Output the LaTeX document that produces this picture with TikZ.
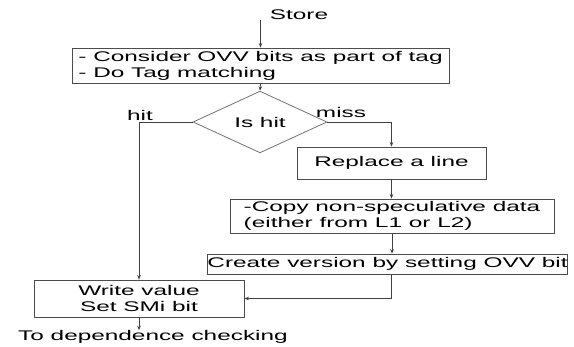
\documentclass[tikz,border=0pt]{standalone}
\usepackage{fontspec}
\setmainfont{Liberation Sans}[FakeStretch=1.74]
\usetikzlibrary{shapes.geometric,arrows.meta}
\begin{document}
\begin{tikzpicture}[x=1pt,y=-1pt,
  every node/.style={font=\fontsize{14}{16}\selectfont, inner sep=0pt},
  box/.style={draw=black!70, line width=0.8pt, rectangle},
  dia/.style={draw=black!55, line width=0.8pt, diamond, minimum width=134pt, minimum height=40pt},
  lbl/.style={},
  conn/.style={draw=black!75, line width=0.8pt},
  arr/.style={conn, -{Stealth[length=4.5pt,width=3.5pt]}}]
\useasboundingbox (0,0) rectangle (574,347);
\node[lbl] (store) at (299,15) {Store};
\node[box, minimum width=377pt, minimum height=35pt, align=left] (box1) at (260.5,65.5)
  {- Consider OVV bits as part of tag\\- Do Tag matching};
\node[dia] (ishit) at (260,122) {Is hit};
\node[lbl] (hit) at (140,115) {hit};
\node[lbl] (miss) at (341,112) {miss};
\node[box, minimum width=189pt, minimum height=32pt] (replace) at (391.5,163) {Replace a line};
\node[box, minimum width=324pt, minimum height=34pt, align=left] (copy) at (392,216)
  {-Copy non-speculative data\\(either from L1 or L2)};
\node[box, minimum width=359pt, minimum height=20pt] (create) at (387.5,264)
  {Create version by setting OVV bit};
\node[box, minimum width=210pt, minimum height=37pt, align=center] (write) at (139,298.5)
  {Write value\\Set SMi bit};
\node[lbl] (dep) at (153,337) {To dependence checking};

\draw[arr] (store.south -| box1.north) -- (box1.north);
\draw[arr] (box1.south) -- (ishit.north);
\draw[arr] (ishit.west) -| (write.north);
\draw[arr] (ishit.east) -| (replace.north);
\draw[arr] (replace.south) -- (replace.south |- copy.north);
\draw[arr] (copy.south) -- (copy.south |- create.north);
\draw[arr] (create.south -| replace.south) |- (write.east);
\draw[arr] (write.south) -- (write.south |- dep.north);
\end{tikzpicture}
\end{document}
